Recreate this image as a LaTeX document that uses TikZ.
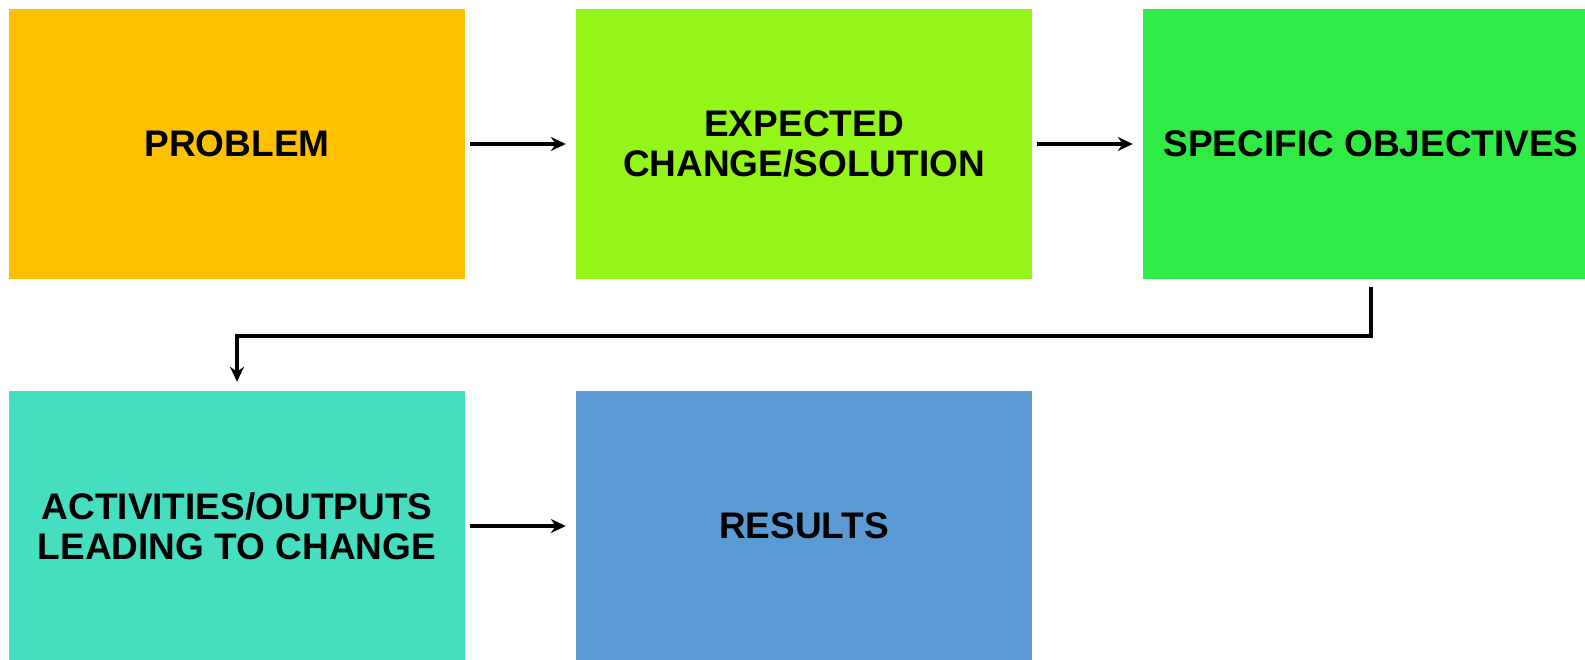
\documentclass[tikz,border=0pt]{standalone}
\usepackage{fontspec}
\setmainfont{Liberation Sans}
\usetikzlibrary{arrows.meta,positioning}
\definecolor{problemorange}{RGB}{255,192,0}
\definecolor{changelime}{RGB}{148,245,24}
\definecolor{objgreen}{RGB}{48,234,70}
\definecolor{actteal}{RGB}{70,222,192}
\definecolor{resultblue}{RGB}{91,155,213}

\begin{document}
\begin{tikzpicture}[x=1pt, y=-1pt,
    stage/.style={minimum width=456pt, minimum height=270pt, inner sep=0pt, align=center, font=\bfseries\fontsize{37}{40}\selectfont},
    flow/.style={-{Stealth[length=15pt, width=14pt, inset=5pt]}, line width=3.5pt, black}]

\useasboundingbox (0,0) rectangle (1585,660);
\clip (0,0) rectangle (1585,660);

% Top row
\node[stage, fill=problemorange] (prob) at (237,144) {PROBLEM};
\node[stage, fill=changelime] (expect) at (804,144) {EXPECTED\\CHANGE/SOLUTION};
\node[stage, fill=objgreen] (objs) at (1371,144) {SPECIFIC OBJECTIVES};

% Bottom row
\node[stage, fill=actteal] (act) at (237,526) {ACTIVITIES/OUTPUTS\\LEADING TO CHANGE};
\node[stage, fill=resultblue] (res) at (804,526) {RESULTS};

% Arrows
\draw[flow, shorten <=5pt, shorten >=10pt] (prob) -- (expect);
\draw[flow, shorten <=5pt, shorten >=10pt] (expect) -- (objs);
\draw[flow, shorten <=8pt, shorten >=9pt] (objs.south) -- ([yshift=-57pt]objs.south) -| (act.north);
\draw[flow, shorten <=5pt, shorten >=10pt] (act) -- (res);

\end{tikzpicture}
\end{document}
